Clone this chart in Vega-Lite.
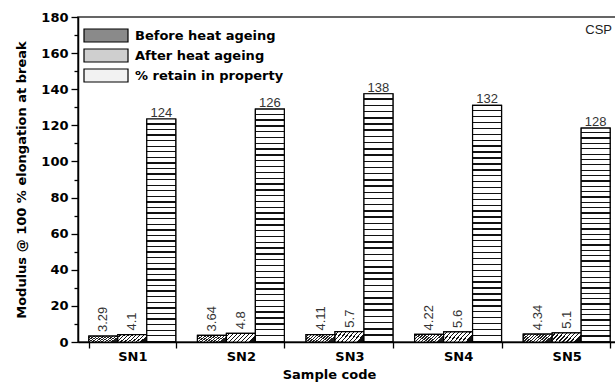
{
  "$schema": "https://vega.github.io/schema/vega-lite/v6.json",
  "width": 543,
  "height": 325,
  "autosize": {"type": "none"},
  "padding": {"left": 78, "top": 17, "right": 0, "bottom": 41},
  "background": "white",
  "config": {
    "view": {"stroke": "#333", "strokeWidth": 1.6},
    "axis": {
      "grid": false,
      "domainColor": "black",
      "domainWidth": 1.5,
      "tickColor": "black",
      "tickWidth": 1.3,
      "labelColor": "black",
      "labelFont": "DejaVu Sans",
      "labelFontWeight": "bold",
      "labelFontSize": 13,
      "titleFont": "DejaVu Sans",
      "titleFontWeight": "bold",
      "titleFontSize": 13,
      "titleColor": "black"
    }
  },
  "data": {
    "values": [
      {"sample": "SN1", "series": "Before heat ageing", "value": 3.29, "label": "3.29"},
      {"sample": "SN1", "series": "After heat ageing", "value": 4.1, "label": "4.1"},
      {"sample": "SN1", "series": "% retain in property", "value": 123.5, "label": "124"},
      {"sample": "SN2", "series": "Before heat ageing", "value": 3.64, "label": "3.64"},
      {"sample": "SN2", "series": "After heat ageing", "value": 4.8, "label": "4.8"},
      {"sample": "SN2", "series": "% retain in property", "value": 129, "label": "126"},
      {"sample": "SN3", "series": "Before heat ageing", "value": 4.11, "label": "4.11"},
      {"sample": "SN3", "series": "After heat ageing", "value": 5.7, "label": "5.7"},
      {"sample": "SN3", "series": "% retain in property", "value": 137.5, "label": "138"},
      {"sample": "SN4", "series": "Before heat ageing", "value": 4.22, "label": "4.22"},
      {"sample": "SN4", "series": "After heat ageing", "value": 5.6, "label": "5.6"},
      {"sample": "SN4", "series": "% retain in property", "value": 131, "label": "132"},
      {"sample": "SN5", "series": "Before heat ageing", "value": 4.34, "label": "4.34"},
      {"sample": "SN5", "series": "After heat ageing", "value": 5.1, "label": "5.1"},
      {"sample": "SN5", "series": "% retain in property", "value": 118.5, "label": "128"}
    ]
  },
  "encoding": {
    "x": {
      "field": "sample",
      "type": "nominal",
      "scale": {"paddingInner": 0.2, "paddingOuter": 0.1},
      "axis": {
        "title": "Sample code",
        "titleFontSize": 13,
        "labelAngle": 0,
        "tickBand": "extent",
        "tickSize": 6,
        "labelPadding": 2,
        "titleX": 251,
        "titlePadding": 5
      }
    },
    "xOffset": {
      "field": "series",
      "type": "nominal",
      "scale": {
        "domain": ["Before heat ageing", "After heat ageing", "% retain in property"],
        "paddingInner": 0,
        "paddingOuter": 0
      }
    },
    "y": {
      "field": "value",
      "type": "quantitative",
      "scale": {"domain": [0, 180], "nice": false},
      "axis": {
        "title": "Modulus @ 100 % elongation at break",
        "values": [0, 10, 20, 30, 40, 50, 60, 70, 80, 90, 100, 110, 120, 130, 140, 150, 160, 170, 180],
        "labelExpr": "datum.value % 20 === 0 ? datum.label : ''",
        "tickSize": {"condition": {"test": "datum.value % 20 === 0", "value": 7}, "value": 4},
        "labelPadding": 3,
        "labelFlush": false,
        "titlePadding": 12
      }
    }
  },
  "layer": [
    {
      "mark": {"type": "bar", "stroke": "black", "strokeWidth": 1.2},
      "encoding": {
        "color": {
          "field": "series",
          "type": "nominal",
          "scale": {
            "domain": ["Before heat ageing", "After heat ageing", "% retain in property"],
            "range": ["#8a8a8a", "#cfcfcf", "#f2f2f2"]
          },
          "legend": {
            "title": null,
            "orient": "none",
            "legendX": 5,
            "legendY": 11,
            "padding": 0,
            "symbolType": "M-1,-1H5.77V1H-1Z",
            "symbolSize": 169,
            "symbolStrokeColor": "black",
            "symbolStrokeWidth": 1.2,
            "symbolOpacity": 1,
            "labelOffset": 37,
            "labelFont": "DejaVu Sans",
            "labelFontWeight": "bold",
            "labelFontSize": 13,
            "labelColor": "black",
            "rowPadding": 1
          }
        }
      }
    },
    {
      "transform": [{"filter": "datum.series === 'Before heat ageing'"}],
      "mark": {
        "type": "bar",
        "stroke": "black",
        "strokeWidth": 1.2,
        "fill": {"gradient": "linear", "x1": 0, "y1": 0, "x2": 1, "y2": 0.3, "stops": [
          {"offset": 0, "color": "#fff"},
          {"offset": 0.05, "color": "#fff"}, {"offset": 0.05, "color": "#222"}, {"offset": 0.1, "color": "#222"}, {"offset": 0.1, "color": "#fff"},
          {"offset": 0.15, "color": "#fff"}, {"offset": 0.15, "color": "#222"}, {"offset": 0.2, "color": "#222"}, {"offset": 0.2, "color": "#fff"},
          {"offset": 0.25, "color": "#fff"}, {"offset": 0.25, "color": "#222"}, {"offset": 0.3, "color": "#222"}, {"offset": 0.3, "color": "#fff"},
          {"offset": 0.35, "color": "#fff"}, {"offset": 0.35, "color": "#222"}, {"offset": 0.4, "color": "#222"}, {"offset": 0.4, "color": "#fff"},
          {"offset": 0.45, "color": "#fff"}, {"offset": 0.45, "color": "#222"}, {"offset": 0.5, "color": "#222"}, {"offset": 0.5, "color": "#fff"},
          {"offset": 0.55, "color": "#fff"}, {"offset": 0.55, "color": "#222"}, {"offset": 0.6, "color": "#222"}, {"offset": 0.6, "color": "#fff"},
          {"offset": 0.65, "color": "#fff"}, {"offset": 0.65, "color": "#222"}, {"offset": 0.7, "color": "#222"}, {"offset": 0.7, "color": "#fff"},
          {"offset": 0.75, "color": "#fff"}, {"offset": 0.75, "color": "#222"}, {"offset": 0.8, "color": "#222"}, {"offset": 0.8, "color": "#fff"},
          {"offset": 0.85, "color": "#fff"}, {"offset": 0.85, "color": "#222"}, {"offset": 0.9, "color": "#222"}, {"offset": 0.9, "color": "#fff"},
          {"offset": 0.95, "color": "#fff"}, {"offset": 0.95, "color": "#222"}, {"offset": 1, "color": "#222"}
        ]}
      }
    },
    {
      "transform": [{"filter": "datum.series === 'After heat ageing'"}],
      "mark": {
        "type": "bar",
        "stroke": "black",
        "strokeWidth": 1.2,
        "fill": {"gradient": "linear", "x1": 0, "y1": 0, "x2": 1, "y2": 0.3, "stops": [
          {"offset": 0, "color": "#fff"},
          {"offset": 0.085, "color": "#fff"}, {"offset": 0.085, "color": "#111"}, {"offset": 0.125, "color": "#111"}, {"offset": 0.125, "color": "#fff"},
          {"offset": 0.21, "color": "#fff"}, {"offset": 0.21, "color": "#111"}, {"offset": 0.25, "color": "#111"}, {"offset": 0.25, "color": "#fff"},
          {"offset": 0.335, "color": "#fff"}, {"offset": 0.335, "color": "#111"}, {"offset": 0.375, "color": "#111"}, {"offset": 0.375, "color": "#fff"},
          {"offset": 0.46, "color": "#fff"}, {"offset": 0.46, "color": "#111"}, {"offset": 0.5, "color": "#111"}, {"offset": 0.5, "color": "#fff"},
          {"offset": 0.585, "color": "#fff"}, {"offset": 0.585, "color": "#111"}, {"offset": 0.625, "color": "#111"}, {"offset": 0.625, "color": "#fff"},
          {"offset": 0.71, "color": "#fff"}, {"offset": 0.71, "color": "#111"}, {"offset": 0.75, "color": "#111"}, {"offset": 0.75, "color": "#fff"},
          {"offset": 0.835, "color": "#fff"}, {"offset": 0.835, "color": "#111"}, {"offset": 0.875, "color": "#111"}, {"offset": 0.875, "color": "#fff"},
          {"offset": 0.96, "color": "#fff"}, {"offset": 0.96, "color": "#111"}, {"offset": 1, "color": "#111"}
        ]}
      }
    },
    {
      "transform": [{"filter": "datum.series === '% retain in property'"}],
      "mark": {
        "type": "bar",
        "stroke": "black",
        "strokeWidth": 1.2,
        "fill": {"gradient": "linear", "x1": 0, "y1": 0, "x2": 0, "y2": 1, "stops": [
          {"offset": 0, "color": "#fff"},
          {"offset": 0.019, "color": "#fff"}, {"offset": 0.019, "color": "#111"}, {"offset": 0.025, "color": "#111"}, {"offset": 0.025, "color": "#fff"},
          {"offset": 0.044, "color": "#fff"}, {"offset": 0.044, "color": "#111"}, {"offset": 0.05, "color": "#111"}, {"offset": 0.05, "color": "#fff"},
          {"offset": 0.069, "color": "#fff"}, {"offset": 0.069, "color": "#111"}, {"offset": 0.075, "color": "#111"}, {"offset": 0.075, "color": "#fff"},
          {"offset": 0.094, "color": "#fff"}, {"offset": 0.094, "color": "#111"}, {"offset": 0.1, "color": "#111"}, {"offset": 0.1, "color": "#fff"},
          {"offset": 0.119, "color": "#fff"}, {"offset": 0.119, "color": "#111"}, {"offset": 0.125, "color": "#111"}, {"offset": 0.125, "color": "#fff"},
          {"offset": 0.144, "color": "#fff"}, {"offset": 0.144, "color": "#111"}, {"offset": 0.15, "color": "#111"}, {"offset": 0.15, "color": "#fff"},
          {"offset": 0.169, "color": "#fff"}, {"offset": 0.169, "color": "#111"}, {"offset": 0.175, "color": "#111"}, {"offset": 0.175, "color": "#fff"},
          {"offset": 0.194, "color": "#fff"}, {"offset": 0.194, "color": "#111"}, {"offset": 0.2, "color": "#111"}, {"offset": 0.2, "color": "#fff"},
          {"offset": 0.219, "color": "#fff"}, {"offset": 0.219, "color": "#111"}, {"offset": 0.225, "color": "#111"}, {"offset": 0.225, "color": "#fff"},
          {"offset": 0.244, "color": "#fff"}, {"offset": 0.244, "color": "#111"}, {"offset": 0.25, "color": "#111"}, {"offset": 0.25, "color": "#fff"},
          {"offset": 0.269, "color": "#fff"}, {"offset": 0.269, "color": "#111"}, {"offset": 0.275, "color": "#111"}, {"offset": 0.275, "color": "#fff"},
          {"offset": 0.294, "color": "#fff"}, {"offset": 0.294, "color": "#111"}, {"offset": 0.3, "color": "#111"}, {"offset": 0.3, "color": "#fff"},
          {"offset": 0.319, "color": "#fff"}, {"offset": 0.319, "color": "#111"}, {"offset": 0.325, "color": "#111"}, {"offset": 0.325, "color": "#fff"},
          {"offset": 0.344, "color": "#fff"}, {"offset": 0.344, "color": "#111"}, {"offset": 0.35, "color": "#111"}, {"offset": 0.35, "color": "#fff"},
          {"offset": 0.369, "color": "#fff"}, {"offset": 0.369, "color": "#111"}, {"offset": 0.375, "color": "#111"}, {"offset": 0.375, "color": "#fff"},
          {"offset": 0.394, "color": "#fff"}, {"offset": 0.394, "color": "#111"}, {"offset": 0.4, "color": "#111"}, {"offset": 0.4, "color": "#fff"},
          {"offset": 0.419, "color": "#fff"}, {"offset": 0.419, "color": "#111"}, {"offset": 0.425, "color": "#111"}, {"offset": 0.425, "color": "#fff"},
          {"offset": 0.444, "color": "#fff"}, {"offset": 0.444, "color": "#111"}, {"offset": 0.45, "color": "#111"}, {"offset": 0.45, "color": "#fff"},
          {"offset": 0.469, "color": "#fff"}, {"offset": 0.469, "color": "#111"}, {"offset": 0.475, "color": "#111"}, {"offset": 0.475, "color": "#fff"},
          {"offset": 0.494, "color": "#fff"}, {"offset": 0.494, "color": "#111"}, {"offset": 0.5, "color": "#111"}, {"offset": 0.5, "color": "#fff"},
          {"offset": 0.519, "color": "#fff"}, {"offset": 0.519, "color": "#111"}, {"offset": 0.525, "color": "#111"}, {"offset": 0.525, "color": "#fff"},
          {"offset": 0.544, "color": "#fff"}, {"offset": 0.544, "color": "#111"}, {"offset": 0.55, "color": "#111"}, {"offset": 0.55, "color": "#fff"},
          {"offset": 0.569, "color": "#fff"}, {"offset": 0.569, "color": "#111"}, {"offset": 0.575, "color": "#111"}, {"offset": 0.575, "color": "#fff"},
          {"offset": 0.594, "color": "#fff"}, {"offset": 0.594, "color": "#111"}, {"offset": 0.6, "color": "#111"}, {"offset": 0.6, "color": "#fff"},
          {"offset": 0.619, "color": "#fff"}, {"offset": 0.619, "color": "#111"}, {"offset": 0.625, "color": "#111"}, {"offset": 0.625, "color": "#fff"},
          {"offset": 0.644, "color": "#fff"}, {"offset": 0.644, "color": "#111"}, {"offset": 0.65, "color": "#111"}, {"offset": 0.65, "color": "#fff"},
          {"offset": 0.669, "color": "#fff"}, {"offset": 0.669, "color": "#111"}, {"offset": 0.675, "color": "#111"}, {"offset": 0.675, "color": "#fff"},
          {"offset": 0.694, "color": "#fff"}, {"offset": 0.694, "color": "#111"}, {"offset": 0.7, "color": "#111"}, {"offset": 0.7, "color": "#fff"},
          {"offset": 0.719, "color": "#fff"}, {"offset": 0.719, "color": "#111"}, {"offset": 0.725, "color": "#111"}, {"offset": 0.725, "color": "#fff"},
          {"offset": 0.744, "color": "#fff"}, {"offset": 0.744, "color": "#111"}, {"offset": 0.75, "color": "#111"}, {"offset": 0.75, "color": "#fff"},
          {"offset": 0.769, "color": "#fff"}, {"offset": 0.769, "color": "#111"}, {"offset": 0.775, "color": "#111"}, {"offset": 0.775, "color": "#fff"},
          {"offset": 0.794, "color": "#fff"}, {"offset": 0.794, "color": "#111"}, {"offset": 0.8, "color": "#111"}, {"offset": 0.8, "color": "#fff"},
          {"offset": 0.819, "color": "#fff"}, {"offset": 0.819, "color": "#111"}, {"offset": 0.825, "color": "#111"}, {"offset": 0.825, "color": "#fff"},
          {"offset": 0.844, "color": "#fff"}, {"offset": 0.844, "color": "#111"}, {"offset": 0.85, "color": "#111"}, {"offset": 0.85, "color": "#fff"},
          {"offset": 0.869, "color": "#fff"}, {"offset": 0.869, "color": "#111"}, {"offset": 0.875, "color": "#111"}, {"offset": 0.875, "color": "#fff"},
          {"offset": 0.894, "color": "#fff"}, {"offset": 0.894, "color": "#111"}, {"offset": 0.9, "color": "#111"}, {"offset": 0.9, "color": "#fff"},
          {"offset": 0.919, "color": "#fff"}, {"offset": 0.919, "color": "#111"}, {"offset": 0.925, "color": "#111"}, {"offset": 0.925, "color": "#fff"},
          {"offset": 0.944, "color": "#fff"}, {"offset": 0.944, "color": "#111"}, {"offset": 0.95, "color": "#111"}, {"offset": 0.95, "color": "#fff"},
          {"offset": 0.969, "color": "#fff"}, {"offset": 0.969, "color": "#111"}, {"offset": 0.975, "color": "#111"}, {"offset": 0.975, "color": "#fff"},
          {"offset": 0.994, "color": "#fff"}, {"offset": 0.994, "color": "#111"}, {"offset": 1, "color": "#111"}
        ]}
      }
    },
    {
      "transform": [{"filter": "datum.series !== '% retain in property'"}],
      "mark": {
        "type": "text",
        "angle": -90,
        "align": "left",
        "baseline": "middle",
        "dx": 4,
        "font": "Liberation Sans",
        "fontSize": 13,
        "fill": "#333"
      },
      "encoding": {"text": {"field": "label"}}
    },
    {
      "transform": [{"filter": "datum.series === '% retain in property'"}],
      "mark": {
        "type": "text",
        "align": "center",
        "baseline": "bottom",
        "dy": 1,
        "font": "Liberation Sans",
        "fontSize": 13,
        "fill": "#333"
      },
      "encoding": {"text": {"field": "label"}}
    },
    {
      "data": {"values": [{"sample": "SN5", "series": "% retain in property", "value": 173, "label": "CSP"}]},
      "mark": {
        "type": "text",
        "align": "center",
        "baseline": "middle",
        "dx": 3,
        "font": "Liberation Sans",
        "fontSize": 13,
        "fill": "#222"
      },
      "encoding": {"text": {"field": "label"}}
    }
  ]
}
